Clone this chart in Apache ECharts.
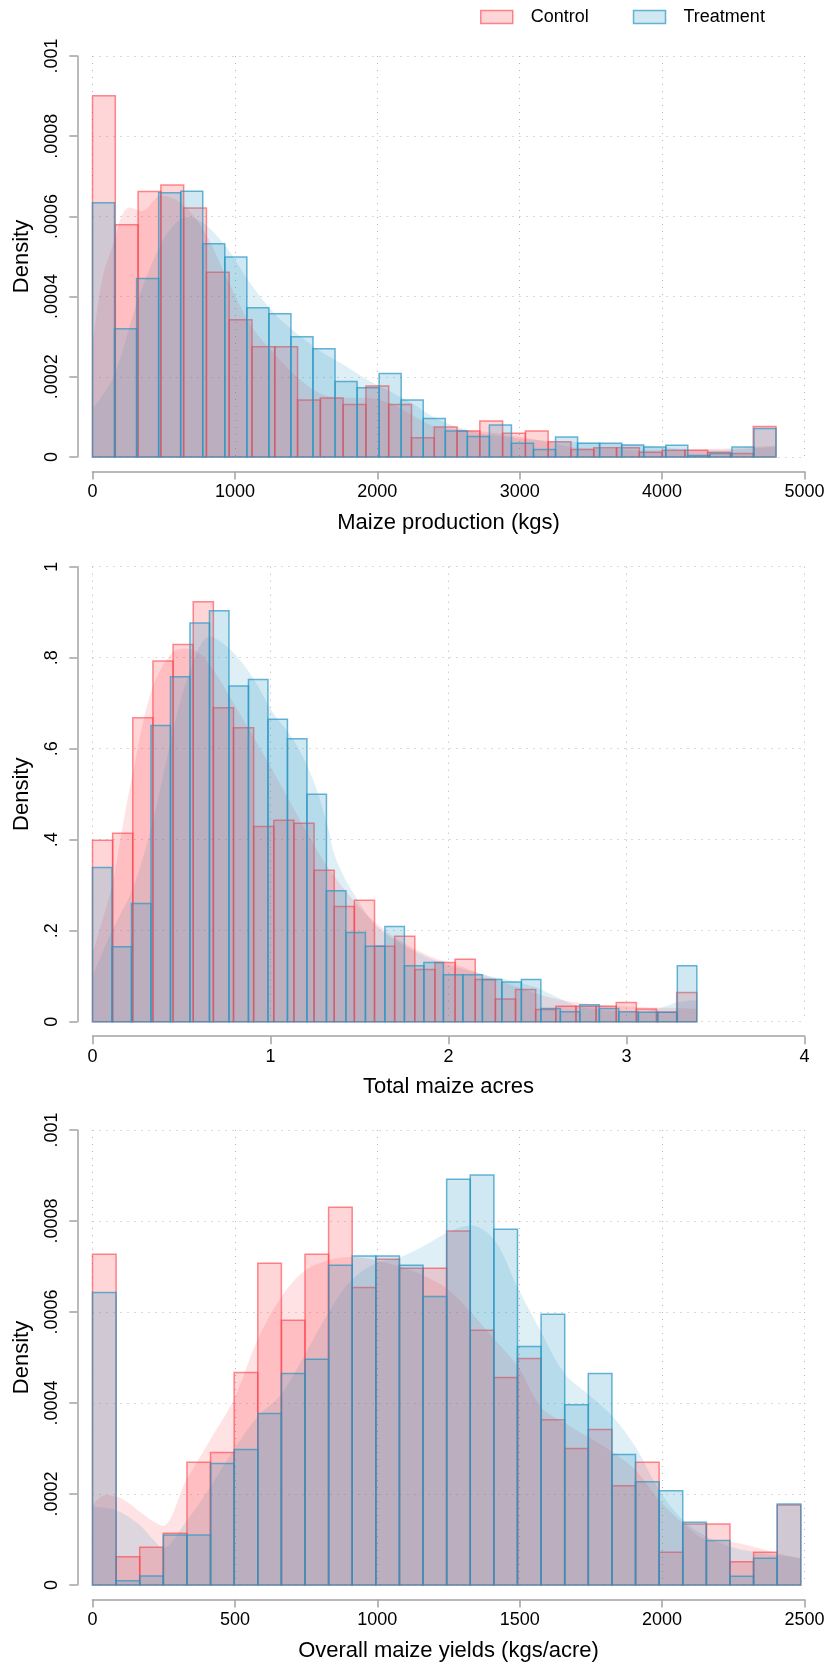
<!DOCTYPE html>
<html><head><meta charset="utf-8">
<script src="https://cdn.jsdelivr.net/npm/echarts@6/dist/echarts.min.js"></script>
<style>html,body{margin:0;padding:0;background:#fff}#chart{width:834px;height:1667px}</style>
</head><body><div id="chart"></div>
<script>
// ---------- DATA ----------
const legendLabels = ['Control', 'Treatment'];
const xTitles = ['Maize production (kgs)', 'Total maize acres', 'Overall maize yields (kgs/acre)'];
const yTitle = 'Density';

// tick values per panel
const prodXTicks = [0, 1000, 2000, 3000, 4000, 5000];
const prodYTicks = [0, 0.0002, 0.0004, 0.0006, 0.0008, 0.001];
const acresXTicks = [0, 1, 2, 3, 4];
const acresYTicks = [0, 0.2, 0.4, 0.6, 0.8, 1];
const yieldXTicks = [0, 500, 1000, 1500, 2000, 2500];
const yieldYTicks = [0, 0.0002, 0.0004, 0.0006, 0.0008, 0.001];

// histogram ranges (data min / max) and bar heights (density)
const prodRange = [0, 4800];
const prodCtrl = [0.000901, 0.000579, 0.000662, 0.000678, 0.000621, 0.000461, 0.000342, 0.000275, 0.000275, 0.000142,
  0.000147, 0.000131, 0.000177, 0.000131, 0.000048, 0.000075, 0.000065, 0.00009, 0.000059, 0.000065,
  0.000038, 0.000019, 0.000023, 0.000023, 0.000012, 0.000017, 0.000017, 0.000012, 0.000009, 0.000076];
const prodTreat = [0.000634, 0.00032, 0.000445, 0.000659, 0.000663, 0.000532, 0.000499, 0.000372, 0.000357, 0.0003,
  0.00027, 0.000188, 0.000173, 0.000208, 0.000142, 0.000096, 0.000065, 0.000051, 0.00008, 0.000034,
  0.000019, 0.00005, 0.000034, 0.000034, 0.00003, 0.000025, 0.000029, 0.000004, 0.000009, 0.000025, 0.000071];

const acresRange = [0, 3.395];
const acresCtrl = [0.399, 0.414, 0.668, 0.793, 0.829, 0.923, 0.69, 0.646, 0.429, 0.443,
  0.436, 0.333, 0.253, 0.267, 0.166, 0.188, 0.115, 0.13, 0.137, 0.093,
  0.05, 0.071, 0.027, 0.034, 0.034, 0.034, 0.042, 0.028, 0.021, 0.064];
const acresTreat = [0.339, 0.165, 0.26, 0.651, 0.758, 0.876, 0.903, 0.738, 0.752, 0.665,
  0.622, 0.5, 0.288, 0.196, 0.166, 0.209, 0.123, 0.13, 0.103, 0.103,
  0.093, 0.087, 0.093, 0.029, 0.022, 0.037, 0.029, 0.022, 0.021, 0.021, 0.123];

const yieldRange = [0, 2487];
const yieldCtrl = [0.000727, 0.000062, 0.000083, 0.000114, 0.00027, 0.000291, 0.000467, 0.000707, 0.000582, 0.000727,
  0.00083, 0.000654, 0.000716, 0.000696, 0.000696, 0.000778, 0.00056, 0.000456, 0.000498, 0.000363,
  0.0003, 0.000342, 0.000218, 0.00027, 0.000072, 0.000134, 0.000134, 0.000051, 0.000072, 0.000176];
const yieldTreat = [0.000643, 0.0000095, 0.00002, 0.00011, 0.00011, 0.000267, 0.000298, 0.000377, 0.000465, 0.000496,
  0.000703, 0.000723, 0.000723, 0.000703, 0.000634, 0.000892, 0.000901, 0.000782, 0.000524, 0.000595,
  0.000396, 0.000465, 0.000287, 0.000227, 0.000207, 0.000138, 0.000098, 0.000019, 0.000059, 0.000178];

// kernel density curves [x, density]
const prodKdeCtrl = [[0, 0.000273], [67, 0.000443], [148, 0.000534], [204, 0.0006], [260, 0.000622], [345, 0.000613],
  [483, 0.000652], [631, 0.00063], [791, 0.000559], [947, 0.000443], [1114, 0.000327], [1273, 0.000259],
  [1429, 0.000202], [1596, 0.000159], [1763, 0.000148], [1919, 0.000148], [2079, 0.000135], [2238, 0.000106],
  [2394, 0.000077], [2561, 0.000069], [2721, 0.000065], [2877, 0.000057], [3044, 0.000048], [3211, 0.000036],
  [3359, 0.000025], [3526, 0.000021], [3693, 0.000019], [3860, 0.000017], [4027, 0.000017], [4176, 0.000018],
  [4343, 0.00002], [4491, 0.000022], [4651, 0.000025], [4800, 0.000028]];
const prodKdeTreat = [[0, 0.00012], [148, 0.0002], [308, 0.00038], [464, 0.00052], [575, 0.00058], [668, 0.000598],
  [791, 0.00058], [947, 0.00052], [1114, 0.00043], [1273, 0.00036], [1429, 0.00031], [1596, 0.000265],
  [1763, 0.00023], [1919, 0.000195], [2079, 0.000165], [2238, 0.000135], [2394, 0.0001], [2561, 0.000075],
  [2721, 0.00006], [2877, 0.000052], [3044, 0.000045], [3211, 0.00004], [3359, 0.000038], [3526, 0.000036],
  [3693, 0.000033], [3860, 0.000029], [4027, 0.000024], [4176, 0.00002], [4343, 0.000018], [4491, 0.000019],
  [4651, 0.000022], [4800, 0.000026]];

const acresKdeCtrl = [[0, 0.15], [0.11, 0.30], [0.165, 0.42], [0.223, 0.54], [0.333, 0.73], [0.445, 0.81], [0.52, 0.82],
  [0.6, 0.81], [0.668, 0.78], [0.778, 0.71], [0.897, 0.63], [1.016, 0.55], [1.128, 0.47], [1.241, 0.39],
  [1.357, 0.32], [1.47, 0.265], [1.583, 0.22], [1.699, 0.185], [1.811, 0.16], [1.921, 0.14], [2.04, 0.125],
  [2.153, 0.11], [2.266, 0.093], [2.382, 0.077], [2.494, 0.062], [2.604, 0.05], [2.723, 0.042], [2.836, 0.037],
  [2.949, 0.035], [3.059, 0.033], [3.171, 0.031], [3.281, 0.03], [3.395, 0.028]];
const acresKdeTreat = [[0, 0.1], [0.11, 0.2], [0.223, 0.29], [0.333, 0.43], [0.43, 0.6], [0.53, 0.75], [0.66, 0.846],
  [0.777, 0.817], [0.897, 0.758], [1.016, 0.678], [1.128, 0.62], [1.241, 0.53], [1.321, 0.43], [1.357, 0.37],
  [1.41, 0.32], [1.47, 0.28], [1.583, 0.215], [1.699, 0.18], [1.811, 0.155], [1.921, 0.135], [2.04, 0.12],
  [2.153, 0.108], [2.266, 0.097], [2.382, 0.088], [2.494, 0.075], [2.604, 0.055], [2.723, 0.035], [2.836, 0.027],
  [2.949, 0.023], [3.059, 0.022], [3.171, 0.028], [3.281, 0.042], [3.395, 0.047]];

const yieldKdeCtrl = [[0, 0.000176], [46, 0.000198], [102, 0.00019], [158, 0.000165], [213, 0.00014], [247, 0.00013],
  [329, 0.00023], [414, 0.00032], [496, 0.000407], [579, 0.000538], [663, 0.000633], [744, 0.00069],
  [828, 0.000714], [909, 0.000721], [995, 0.000714], [1078, 0.0007], [1160, 0.000681], [1243, 0.000652],
  [1327, 0.0006], [1411, 0.00054], [1494, 0.00048], [1574, 0.000392], [1657, 0.000356], [1739, 0.000326],
  [1824, 0.000293], [1906, 0.000253], [1990, 0.000187], [2073, 0.000136], [2157, 0.000099], [2240, 0.000095],
  [2320, 0.000084], [2403, 0.00007], [2487, 0.000059]];
const yieldKdeTreat = [[0, 0.000172], [80, 0.000165], [158, 0.000136], [213, 0.0001], [247, 0.000081], [329, 0.00014],
  [414, 0.000216], [496, 0.000297], [579, 0.00037], [663, 0.00042], [744, 0.000505], [828, 0.000598],
  [909, 0.00067], [995, 0.000707], [1078, 0.00072], [1160, 0.000744], [1243, 0.000773], [1327, 0.00079],
  [1411, 0.000758], [1494, 0.000652], [1574, 0.000557], [1657, 0.000465], [1739, 0.00042], [1824, 0.000372],
  [1906, 0.000304], [1990, 0.000209], [2073, 0.000143], [2157, 0.000106], [2240, 0.000084], [2320, 0.000073],
  [2403, 0.000066], [2487, 0.000059]];

// ---------- STYLE ----------
const FONT = "'Liberation Sans', Arial, sans-serif";
const RED_FILL = 'rgba(255,60,70,0.21)';
const RED_LINE = 'rgba(255,60,70,0.6)';
const BLUE_FILL = 'rgba(40,150,195,0.22)';
const BLUE_LINE = 'rgba(40,150,195,0.7)';
const AXIS_COLOR = '#a3a3a3';
const GRID_COLOR = '#b4b4b4';

const panels = [
  { xt: prodXTicks, yt: prodYTicks, range: prodRange, c: prodCtrl, t: prodTreat, kc: prodKdeCtrl, kt: prodKdeTreat, top: 56, bottom: 1667 - 457 },
  { xt: acresXTicks, yt: acresYTicks, range: acresRange, c: acresCtrl, t: acresTreat, kc: acresKdeCtrl, kt: acresKdeTreat, top: 566.7, bottom: 1667 - 1021.7 },
  { xt: yieldXTicks, yt: yieldYTicks, range: yieldRange, c: yieldCtrl, t: yieldTreat, kc: yieldKdeCtrl, kt: yieldKdeTreat, top: 1130, bottom: 1667 - 1585 }
];

function bins(range, vals) {
  const w = (range[1] - range[0]) / vals.length;
  return vals.map((v, i) => [range[0] + i * w, range[0] + (i + 1) * w, v]);
}
function yFmt(v) {
  if (v === 0) return '0';
  return String(+v.toFixed(6)).replace(/^0\./, '.');
}
function histSeries(k, name, data, fill, line, z) {
  return {
    type: 'custom', name, xAxisIndex: k, yAxisIndex: k, z,
    data, encode: { x: [0, 1], y: 2 },
    itemStyle: { color: fill, borderColor: line },
    renderItem: (params, api) => {
      const a = api.coord([api.value(0), api.value(2)]);
      const b = api.coord([api.value(1), 0]);
      return { type: 'rect', shape: { x: a[0], y: a[1], width: b[0] - a[0], height: b[1] - a[1] },
        style: { fill, stroke: line, lineWidth: 1.5 } };
    }
  };
}
function kdeSeries(k, name, data, fill, z) {
  return {
    type: 'line', name, xAxisIndex: k, yAxisIndex: k, z, data,
    showSymbol: false, symbol: 'none', smooth: 0.35,
    lineStyle: { width: 0, opacity: 0 },
    areaStyle: { color: fill, origin: 'start' }
  };
}

const grid = [], xAxis = [], yAxis = [], series = [];
panels.forEach((p, k) => {
  grid.push({ left: 92.5, right: 29.5, top: p.top, bottom: p.bottom });
  xAxis.push({
    gridIndex: k, type: 'value', min: p.xt[0], max: p.xt[p.xt.length - 1], interval: p.xt[1] - p.xt[0],
    offset: 14.5,
    axisLine: { show: true, onZero: false, lineStyle: { color: AXIS_COLOR, width: 1.5 } },
    axisTick: { show: true, length: 8, lineStyle: { color: AXIS_COLOR, width: 1.5 } },
    axisLabel: { fontSize: 18, color: '#000', margin: 12, fontFamily: FONT, formatter: v => String(v) },
    splitLine: { show: true, lineStyle: { color: GRID_COLOR, width: 1, type: [1, 6] } },
    name: xTitles[k], nameLocation: 'middle', nameGap: 40,
    nameTextStyle: { fontSize: 22, color: '#000', fontFamily: FONT }
  });
  yAxis.push({
    gridIndex: k, type: 'value', min: p.yt[0], max: p.yt[p.yt.length - 1], interval: p.yt[1] - p.yt[0],
    offset: 15.2,
    axisLine: { show: true, onZero: false, lineStyle: { color: AXIS_COLOR, width: 1.5 } },
    axisTick: { show: true, length: 8, lineStyle: { color: AXIS_COLOR, width: 1.5 } },
    axisLabel: { fontSize: 18, color: '#000', margin: 16, rotate: 90, fontFamily: FONT, formatter: yFmt },
    splitLine: { show: true, lineStyle: { color: GRID_COLOR, width: 1, type: [1, 6] } },
    name: yTitle, nameLocation: 'middle', nameGap: 44, nameRotate: 90,
    nameTextStyle: { fontSize: 22, color: '#000', fontFamily: FONT }
  });
  series.push(kdeSeries(k, 'kde-c', p.kc, RED_FILL, 1));
  series.push(kdeSeries(k, 'kde-t', p.kt, BLUE_FILL, 1));
  series.push(histSeries(k, legendLabels[0], bins(p.range, p.c), RED_FILL, RED_LINE, 2));
  series.push(histSeries(k, legendLabels[1], bins(p.range, p.t), BLUE_FILL, BLUE_LINE, 3));
});

const chart = echarts.init(document.getElementById('chart'), null, { renderer: 'canvas' });
chart.setOption({
  animation: false,
  backgroundColor: '#fff',
  legend: {
    top: 3, left: 475, itemWidth: 32, itemHeight: 13, itemGap: 44, icon: 'rect',
    data: [
      { name: legendLabels[0], itemStyle: { color: RED_FILL, borderColor: RED_LINE, borderWidth: 1.5 } },
      { name: legendLabels[1], itemStyle: { color: BLUE_FILL, borderColor: BLUE_LINE, borderWidth: 1.5 } }
    ],
    textStyle: { fontSize: 18, color: '#000', fontFamily: FONT, padding: [0, 0, 0, 13] }
  },
  grid, xAxis, yAxis, series
});
</script>
</body></html>
